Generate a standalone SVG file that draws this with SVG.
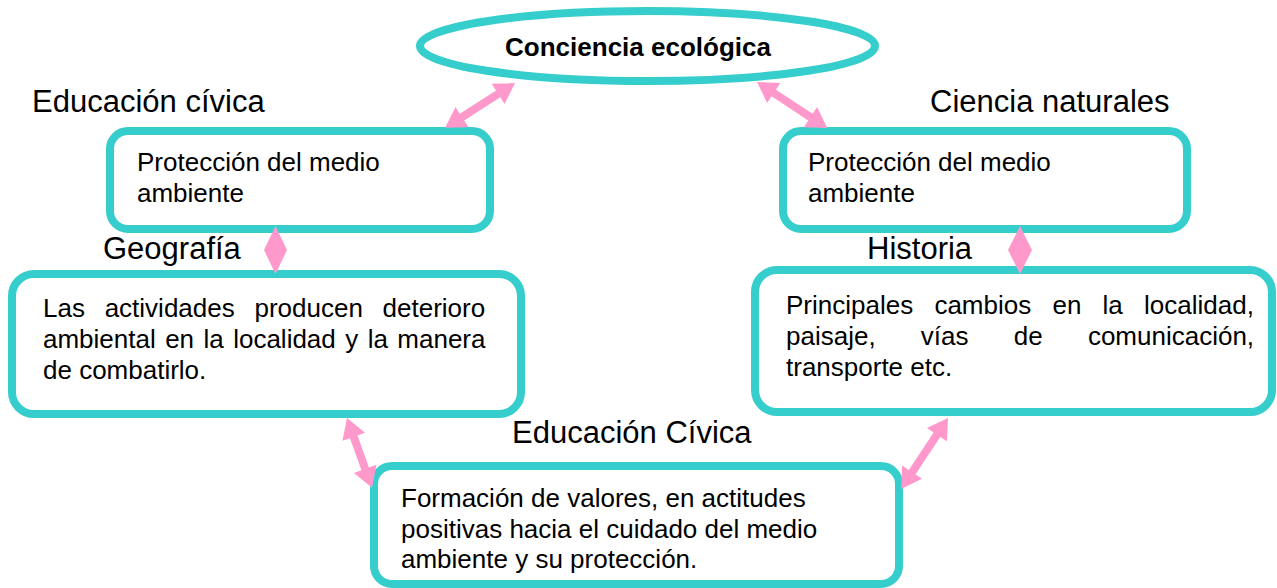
<svg xmlns="http://www.w3.org/2000/svg" width="1277" height="588" viewBox="0 0 1277 588">
<style>
.box{fill:#fff;stroke:#36CDCD;stroke-width:8}
.t{font-family:"Liberation Sans",Arial,sans-serif;font-size:26px;fill:#000}
.lbl{font-family:"Liberation Sans",Arial,sans-serif;font-size:31px;fill:#000}
.arr{fill:#FF99CC;stroke:none}
</style>
<rect width="1277" height="588" fill="#fff"/>
<g id="conciencia">
<ellipse class="box" cx="647.5" cy="46" rx="227.5" ry="35"/>
<text x="638" y="56" text-anchor="middle" class="t" font-weight="bold">Conciencia ecológica</text>
</g>
<g id="civica1">
<text x="32" y="112" class="lbl">Educación cívica</text>
<rect class="box" x="110" y="131" width="380" height="98" rx="18"/>
<text x="137" y="171" class="t">Protección del medio</text>
<text x="137" y="202" class="t">ambiente</text>
</g>
<g id="ciencias">
<text x="930" y="112" class="lbl">Ciencia naturales</text>
<rect class="box" x="783" y="131" width="404" height="98" rx="18"/>
<text x="808" y="171" class="t">Protección del medio</text>
<text x="808" y="202" class="t">ambiente</text>
</g>
<g id="geografia">
<text x="103" y="259" class="lbl">Geografía</text>
<rect class="box" x="12" y="274" width="509" height="140" rx="22"/>
<text x="43" y="317" class="t" word-spacing="12.5">Las actividades producen deterioro</text>
<text x="43" y="348" class="t" word-spacing="2.2">ambiental en la localidad y la manera</text>
<text x="43" y="379" class="t">de combatirlo.</text>
</g>
<g id="historia">
<text x="867" y="259" class="lbl">Historia</text>
<rect class="box" x="755" y="270" width="517" height="142" rx="22"/>
<text x="786" y="314" class="t" word-spacing="14">Principales cambios en la localidad,</text>
<text x="786" y="345" class="t" word-spacing="38">paisaje, vías de comunicación,</text>
<text x="786" y="376" class="t">transporte etc.</text>
</g>
<g id="civica2">
<text x="512" y="443" class="lbl">Educación Cívica</text>
<rect class="box" x="374" y="466" width="525" height="118" rx="18"/>
<text x="401" y="507" class="t">Formación de valores, en actitudes</text>
<text x="401" y="538" class="t">positivas hacia el cuidado del medio</text>
<text x="401" y="568" class="t">ambiente y su protección.</text>
</g>
<g id="connectors">
<path class="arr" transform="translate(515,83) rotate(147.3)" d="M0,0 L20,-12 L20,-4 L63,-4 L63,-12 L83,0 L63,12 L63,4 L20,4 L20,12 Z"/>
<path class="arr" transform="translate(757,82) rotate(33.3)" d="M0,0 L20,-12 L20,-4 L64,-4 L64,-12 L84,0 L64,12 L64,4 L20,4 L20,12 Z"/>
<path class="arr" transform="translate(347,418) rotate(70.3)" d="M0,0 L20,-12 L20,-4 L54,-4 L54,-12 L74,0 L54,12 L54,4 L20,4 L20,12 Z"/>
<path class="arr" transform="translate(948,418) rotate(123.5)" d="M0,0 L20,-12 L20,-4 L65,-4 L65,-12 L85,0 L65,12 L65,4 L20,4 L20,12 Z"/>
<polygon class="arr" points="275.5,226 287,250 275.5,274 264,250"/>
<polygon class="arr" points="1020,226 1032,250 1020,274 1008,250"/>
</g>
</svg>
